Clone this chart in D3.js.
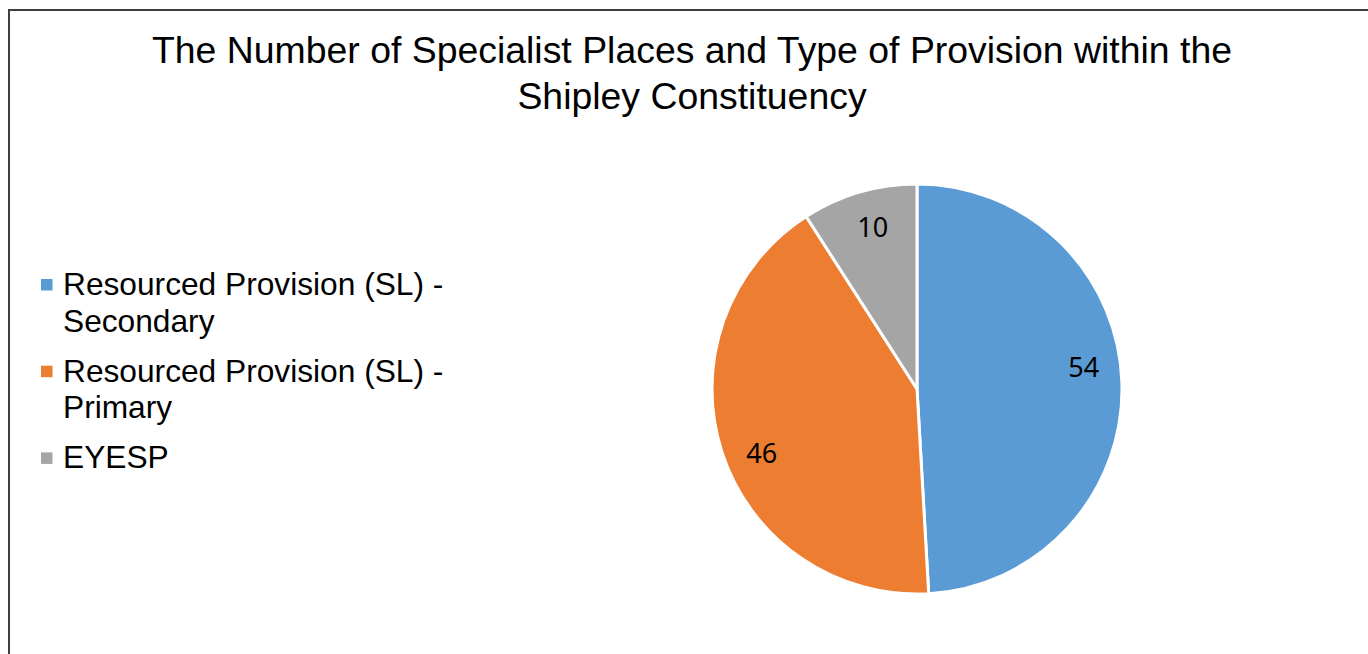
<!DOCTYPE html>
<html>
<head>
<meta charset="utf-8">
<script src="https://cdn.jsdelivr.net/npm/d3@7"></script>
<style>
  body { margin: 0; background: #fff; }
  svg { display: block; }
</style>
</head>
<body>
<svg id="chart"></svg>
<script>
const categories = [
  'Resourced Provision (SL) - Secondary',
  'Resourced Provision (SL) - Primary',
  'EYESP',
];
const values = [54, 46, 10];
const legendLines = [
  ['Resourced Provision (SL) -', 'Secondary'],
  ['Resourced Provision (SL) -', 'Primary'],
  ['EYESP'],
];
const titleLines = [
  'The Number of Specialist Places and Type of Provision within the',
  'Shipley Constituency',
];
const colors = ['#5B9BD5', '#ED7D31', '#A5A5A5'];
// small angle nudges (degrees) for label placement, like the "best fit" layout
const labelNudge = [-5.8, -4.6, 1.1];

const width = 1368;
const height = 654;

const svg = d3.select('#chart')
  .attr('width', width)
  .attr('height', height);

// Chart border (runs off the right and bottom edges)
svg.append('rect')
  .attr('x', 9)
  .attr('y', 10)
  .attr('width', width + 20)
  .attr('height', height + 20)
  .attr('fill', '#fff')
  .attr('stroke', '#3f3f3f')
  .attr('stroke-width', 2);

// Title
svg.append('text')
  .attr('text-anchor', 'middle')
  .attr('font-family', "'Liberation Sans', Arial, sans-serif")
  .attr('font-size', 37.4)
  .attr('fill', '#000')
  .selectAll('tspan')
  .data(titleLines)
  .enter().append('tspan')
    .attr('x', 692)
    .attr('y', (d, i) => 63 + i * 46)
    .text(d => d);

// Pie
const cx = 917;
const cy = 389;
const radius = 205;

const pie = d3.pie()
  .sort(null)
  .value(d => d.value);
const arcs = pie(categories.map((c, i) => ({ name: c, value: values[i] })));

const arc = d3.arc()
  .innerRadius(0)
  .outerRadius(radius);

const g = svg.append('g')
  .attr('transform', `translate(${cx}, ${cy})`);

g.selectAll('path.slice')
  .data(arcs)
  .enter().append('path')
    .attr('class', 'slice')
    .attr('d', arc)
    .attr('fill', (d, i) => colors[i])
    .attr('stroke', '#fff')
    .attr('stroke-width', 3)
    .attr('stroke-linejoin', 'round');

const labelRadius = radius * 0.82;
const labelPos = (d, i) => {
  const a = (d.startAngle + d.endAngle) / 2 + labelNudge[i] * Math.PI / 180;
  return [labelRadius * Math.sin(a), -labelRadius * Math.cos(a)];
};

g.selectAll('text.label')
  .data(arcs)
  .enter().append('text')
    .attr('class', 'label')
    .attr('transform', (d, i) => `translate(${labelPos(d, i)})`)
    .attr('text-anchor', 'middle')
    .attr('dy', '0.36em')
    .attr('font-family', "'Noto Sans', 'Open Sans', sans-serif")
    .attr('font-size', 27)
    .attr('fill', '#000')
    .text(d => d.data.value);

// Legend
const legend = svg.append('g')
  .attr('class', 'legend')
  .attr('transform', 'translate(41, 295)');

const item = legend.selectAll('g.item')
  .data(legendLines)
  .enter().append('g')
    .attr('class', 'item')
    .attr('transform', (d, i) => `translate(0, ${i * 86.7})`);

item.append('rect')
  .attr('x', 0)
  .attr('y', -16)
  .attr('width', 11.5)
  .attr('height', 11.5)
  .attr('fill', (d, i) => colors[i]);

item.append('text')
  .attr('font-family', "'Liberation Sans', Arial, sans-serif")
  .attr('font-size', 31.7)
  .attr('fill', '#000')
  .selectAll('tspan')
  .data(d => d)
  .enter().append('tspan')
    .attr('x', 22)
    .attr('y', (d, i) => i * 36.5)
    .text(d => d);
</script>
</body>
</html>
